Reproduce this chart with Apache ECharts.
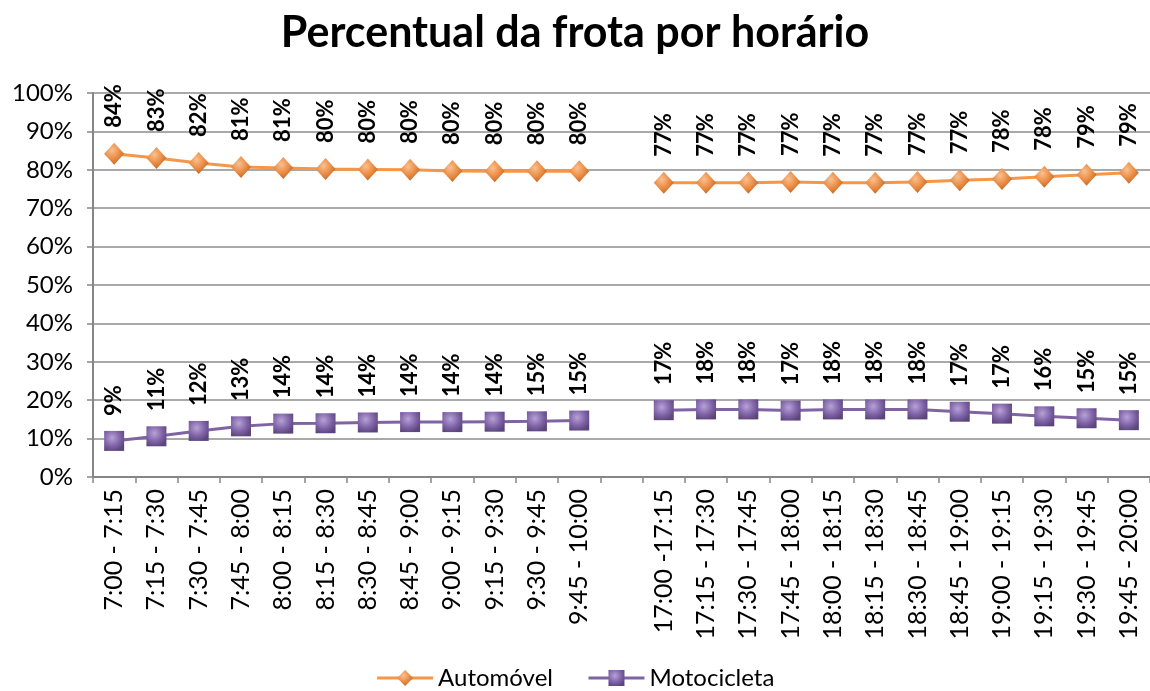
<!DOCTYPE html>
<html>
<head>
<meta charset="utf-8">
<script src="https://cdn.jsdelivr.net/npm/echarts@6/dist/echarts.min.js"></script>
<style>
html,body{margin:0;padding:0;background:#fff;}
#c{width:1150px;height:691px;}
</style>
</head>
<body>
<div id="c"></div>
<script>
const categories = [
  "7:00 - 7:15","7:15 - 7:30","7:30 - 7:45","7:45 - 8:00","8:00 - 8:15","8:15 - 8:30",
  "8:30 - 8:45","8:45 - 9:00","9:00 - 9:15","9:15 - 9:30","9:30 - 9:45","9:45 - 10:00",
  "",
  "17:00 -17:15","17:15 - 17:30","17:30 - 17:45","17:45 - 18:00","18:00 - 18:15","18:15 - 18:30",
  "18:30 - 18:45","18:45 - 19:00","19:00 - 19:15","19:15 - 19:30","19:30 - 19:45","19:45 - 20:00"
];
const automovel = [84.2, 83.1, 81.8, 80.7, 80.5, 80.2, 80.1, 80.0, 79.7, 79.6, 79.6, 79.6,
  null,
  76.6, 76.6, 76.6, 76.8, 76.6, 76.6, 76.8, 77.3, 77.6, 78.2, 78.7, 79.2];
const motocicleta = [9.4, 10.6, 12.0, 13.2, 13.9, 14.0, 14.2, 14.3, 14.3, 14.4, 14.5, 14.7,
  null,
  17.4, 17.6, 17.6, 17.3, 17.6, 17.6, 17.6, 17.0, 16.5, 15.8, 15.3, 14.8];
const yTicks = [0,10,20,30,40,50,60,70,80,90,100];

const FONT = 'Lato, "Open Sans", sans-serif';
const chart = echarts.init(document.getElementById('c'), null, {renderer:'canvas'});

function grad(light, base, dark){
  return new echarts.graphic.RadialGradient(0.4, 0.35, 0.7, [
    {offset:0, color:light},{offset:0.6, color:base},{offset:1, color:dark}
  ]);
}
const labelCfg = {
  show:true, position:'top', rotate:90, align:'left', verticalAlign:'middle',
  distance:15, color:'#000', fontWeight:'bold', fontSize:22, fontFamily:FONT,
  formatter: p => Math.round(p.value) + '%'
};

chart.setOption({
  animation:false,
  backgroundColor:'#fff',
  title:{
    text:'Percentual da frota por horário', left:'center', top:7,
    textStyle:{fontFamily:FONT, fontWeight:'bold', fontSize:43, color:'#000'}
  },
  legend:{
    bottom:0, left:'center', itemGap:34, itemWidth:56, itemHeight:20,
    padding:[5,10,1,10],
    textStyle:{fontFamily:FONT, fontSize:24, color:'#000'},
    lineStyle:{width:3},
    data:['Automóvel','Motocicleta']
  },
  grid:{left:93, top:93, width:1065, height:384},
  xAxis:{
    type:'category', data:categories, boundaryGap:true,
    axisLine:{lineStyle:{color:'#868686', width:2}},
    axisTick:{show:true, interval:0, length:6, lineStyle:{color:'#868686', width:1.5}},
    axisLabel:{interval:0, rotate:90, margin:12, color:'#000', fontSize:25, fontFamily:FONT}
  },
  yAxis:{
    type:'value', min:0, max:100, interval:10,
    axisLine:{show:true, lineStyle:{color:'#868686', width:2}},
    axisTick:{show:true, length:6, lineStyle:{color:'#868686', width:1.5}},
    axisLabel:{formatter: v => v + '%', color:'#000', fontSize:24, fontFamily:FONT, margin:20},
    splitLine:{show:true, lineStyle:{color:'#8c8c8c', width:1.5}}
  },
  series:[
    {
      name:'Automóvel', type:'line', data:automovel, connectNulls:false,
      symbol:'diamond', symbolSize:[20,22],
      lineStyle:{color:'#F79646', width:3},
      itemStyle:{color:grad('#FBC08E','#E8883F','#B8642A'), borderWidth:0},
      label:labelCfg
    },
    {
      name:'Motocicleta', type:'line', data:motocicleta, connectNulls:false,
      symbol:'rect', symbolSize:20,
      lineStyle:{color:'#8064A2', width:3},
      itemStyle:{color:grad('#B7A2D6','#7E62A6','#5B457A'), borderWidth:0},
      label:labelCfg
    }
  ]
});
</script>
</body>
</html>
